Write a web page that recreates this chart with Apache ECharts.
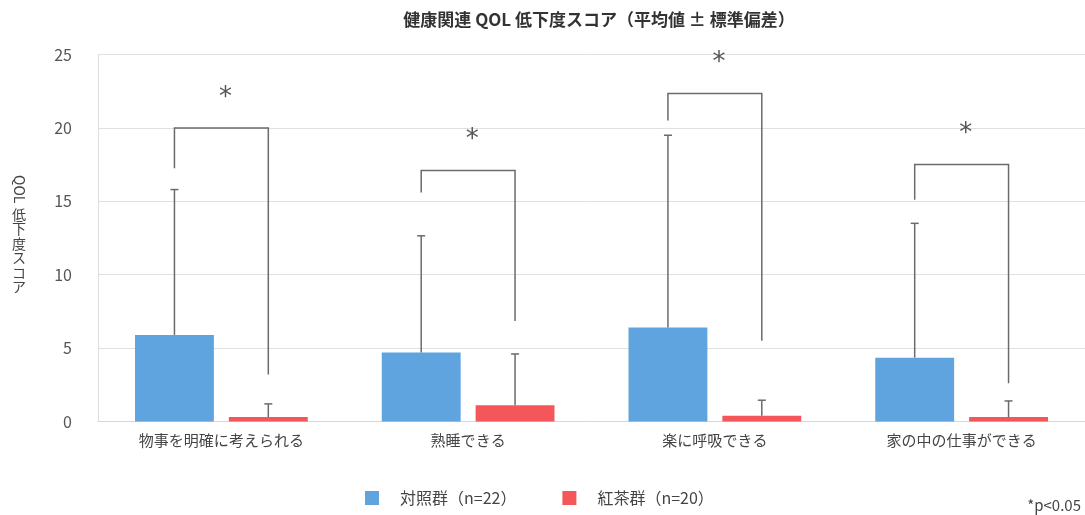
<!DOCTYPE html>
<html>
<head>
<meta charset="utf-8">
<script src="https://cdn.jsdelivr.net/npm/echarts@6/dist/echarts.min.js"></script>
<style>
  html, body { margin: 0; padding: 0; background: #fff; }
  #chart { width: 1085px; height: 515px; }
</style>
</head>
<body>
<div id="chart"></div>
<script>
// Items of the QOL questionnaire
const categories = ['物事を明確に考えられる', '熟睡できる', '楽に呼吸できる', '家の中の仕事ができる'];
const seriesNames = ['対照群（n=22）', '紅茶群（n=20）'];

// Means and standard deviations per group
const controlMean = [5.9, 4.7, 6.4, 4.35];
const controlSD   = [9.9, 7.95, 13.1, 9.15];
const teaMean     = [0.3, 1.1, 0.4, 0.3];
const teaSD       = [0.9, 3.5, 1.05, 1.1];

// Significance brackets: top of bracket, lower end of left leg, lower end of right leg
const bracketTop   = [20.0, 17.1, 22.35, 17.5];
const bracketLeft  = [17.25, 15.6, 20.5, 15.1];
const bracketRight = [3.2, 6.85, 5.5, 2.6];
const sigMarks     = ['*', '*', '*', '*'];

const yTicks = { min: 0, max: 25, interval: 5 };

const COLORS = ['#5fa3df', '#f45659'];
const CAT_GAP = 0.30;   // barCategoryGap
const BAR_GAP = 0.19;   // barGap
const FONT = '"Noto Sans CJK JP", "Noto Sans", sans-serif';
const LINE = '#6b6b6b';

// Horizontal offset of a bar centre from its category centre
function barOffset(api) {
  const band = api.size([1, 0])[0];
  const bw = band * (1 - CAT_GAP) / (2 + BAR_GAP);
  return bw * (1 + BAR_GAP) / 2;
}

const errorData = [];
categories.forEach((c, i) => {
  errorData.push([i, controlMean[i], controlSD[i], 0]);
  errorData.push([i, teaMean[i], teaSD[i], 1]);
});
const bracketData = categories.map((c, i) => [i, bracketTop[i], bracketLeft[i], bracketRight[i]]);

const chart = echarts.init(document.getElementById('chart'));
chart.setOption({
  animation: false,
  textStyle: { fontFamily: FONT },
  title: {
    text: '健康関連 QOL 低下度スコア（平均値 ± 標準偏差）',
    left: 594, textAlign: 'center', top: 6,
    textStyle: { fontSize: 17, fontWeight: 'bold', color: '#333', fontFamily: FONT }
  },
  grid: { left: 98, right: 0, top: 54.5, bottom: 93.5 },
  legend: {
    data: seriesNames,
    left: 360, top: 485,
    icon: 'rect', itemWidth: 14, itemHeight: 14, itemGap: 46,
    textStyle: { fontSize: 16, color: '#444', padding: [0, 0, 0, 16], fontFamily: FONT }
  },
  xAxis: {
    type: 'category',
    data: categories,
    axisTick: { show: false },
    axisLine: { lineStyle: { color: '#d6d6d6' } },
    axisLabel: { fontSize: 15, color: '#444', margin: 11, fontFamily: FONT }
  },
  yAxis: {
    type: 'value',
    min: yTicks.min, max: yTicks.max, interval: yTicks.interval,
    axisLine: { show: true, lineStyle: { color: '#dedede' } },
    axisTick: { show: false },
    splitLine: { lineStyle: { color: '#e0e0e0' } },
    axisLabel: { fontSize: 16, color: '#555', margin: 26, fontFamily: FONT }
  },
  graphic: [
    {
      // "QOL" turned to read downwards, followed by upright vertical kana/kanji
      type: 'text', x: 19, y: 175, rotation: -Math.PI / 2,
      style: { text: 'QOL', fontSize: 14, fill: '#444', fontFamily: FONT, textAlign: 'left', textVerticalAlign: 'middle' }
    },
    {
      type: 'text', x: 19, y: 207,
      style: { text: '低\n下\n度\nス\nコ\nア', fontSize: 14, lineHeight: 14.5, fill: '#444', fontFamily: FONT, textAlign: 'center', textVerticalAlign: 'top' }
    },
    {
      type: 'text', right: 4, top: 498,
      style: { text: '*p<0.05', fontSize: 15, fill: '#444', fontFamily: FONT }
    }
  ],
  series: [
    {
      name: seriesNames[0], type: 'bar', data: controlMean,
      itemStyle: { color: COLORS[0] },
      barCategoryGap: (CAT_GAP * 100) + '%', barGap: (BAR_GAP * 100) + '%'
    },
    {
      name: seriesNames[1], type: 'bar', data: teaMean,
      itemStyle: { color: COLORS[1] },
      barCategoryGap: (CAT_GAP * 100) + '%', barGap: (BAR_GAP * 100) + '%'
    },
    {
      // Error bars (mean → mean + SD) with a small cap
      type: 'custom', z: 5, clip: false,
      data: errorData,
      renderItem(params, api) {
        const i = api.value(0), mean = api.value(1), sd = api.value(2), g = api.value(3);
        const off = barOffset(api) * (g === 0 ? -1 : 1);
        const p0 = api.coord([i, mean]);
        const p1 = api.coord([i, mean + sd]);
        const x = p0[0] + off;
        const half = 4;
        return {
          type: 'group',
          children: [
            { type: 'line', shape: { x1: x, y1: p0[1], x2: x, y2: p1[1] }, style: { stroke: LINE, lineWidth: 1.5 } },
            { type: 'line', shape: { x1: x - half, y1: p1[1], x2: x + half, y2: p1[1] }, style: { stroke: LINE, lineWidth: 1.5 } }
          ]
        };
      }
    },
    {
      // Significance brackets with asterisks
      type: 'custom', z: 6, clip: false,
      data: bracketData,
      renderItem(params, api) {
        const i = api.value(0);
        const off = barOffset(api);
        const top = api.coord([i, api.value(1)]);
        const lb = api.coord([i, api.value(2)]);
        const rb = api.coord([i, api.value(3)]);
        const xl = top[0] - off, xr = top[0] + off;
        return {
          type: 'group',
          children: [
            {
              type: 'polyline',
              shape: { points: [[xl, lb[1]], [xl, top[1]], [xr, top[1]], [xr, rb[1]]] },
              style: { stroke: LINE, lineWidth: 1.5, fill: null }
            },
            {
              type: 'text',
              style: {
                text: sigMarks[params.dataIndex], x: top[0] + 4, y: top[1] - 30,
                fontSize: 26, fill: '#555', textAlign: 'center', textVerticalAlign: 'middle',
                fontFamily: '"DejaVu Sans", sans-serif'
              }
            }
          ]
        };
      }
    }
  ]
});
</script>
</body>
</html>
